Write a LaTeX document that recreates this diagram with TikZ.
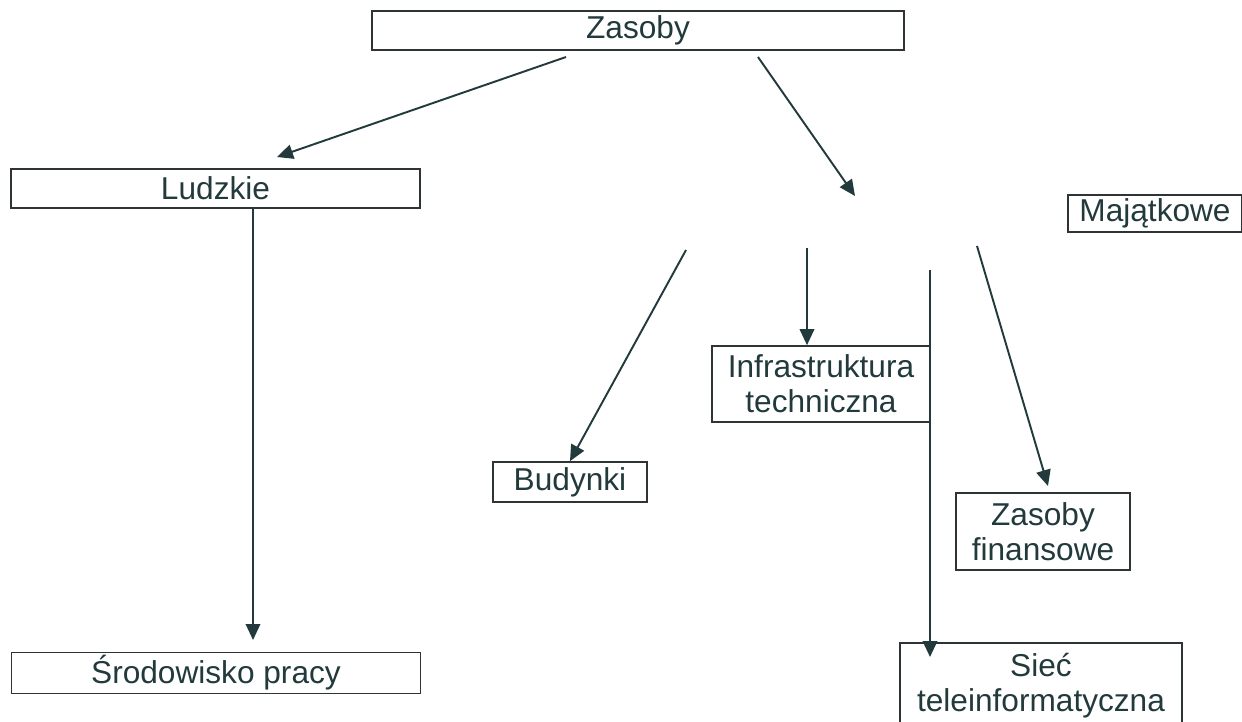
\documentclass[tikz,border=0pt]{standalone}
\usepackage{fontspec}
\setmainfont{Liberation Sans}
\usetikzlibrary{arrows.meta}
\definecolor{ink}{HTML}{223A3C}
\definecolor{frame}{HTML}{2E3436}

\begin{document}
\begin{tikzpicture}[x=0.02cm, y=-0.02cm,
    box/.style={draw=frame, line width=0.95pt, inner sep=0pt, align=center,
        text=ink, font=\fontsize{18}{20}\selectfont},
    link/.style={draw=ink, line width=1.1pt,
        -{Triangle[length=0.32cm,width=0.29cm]}}
]
	\useasboundingbox (0,0) rectangle (1242,721);
	\clip (0,0) rectangle (1242,721);

	% boxes
	\node[box, minimum width=10.64cm, minimum height=0.78cm] (zas) at (638,30.5) {Zasoby};
	\node[box, minimum width=8.18cm, minimum height=0.78cm] (ludz) at (215.5,188.5) {Ludzkie};
	\node[box, minimum width=3.48cm, minimum height=0.74cm] (maj) at (1155,213.5) {Majątkowe};
	\node[box, minimum width=4.36cm, minimum height=1.52cm] (infra) at (821,384) {Infrastruktura\\techniczna};
	\node[box, minimum width=3.08cm, minimum height=0.8cm] (bud) at (570,482) {Budynki};
	\node[box, minimum width=3.48cm, minimum height=1.54cm] (fin) at (1043,531.5) {Zasoby\\finansowe};
	\node[box, minimum width=8.18cm, minimum height=0.82cm] (sro) at (216,673) {Środowisko pracy};
	\node[box, minimum width=5.64cm, minimum height=1.72cm] (siec) at (1041,686) {Sieć\\teleinformatyczna};

	% free ends of the arrows
	\coordinate (zasL) at (566,57);
	\coordinate (ludzIn) at (277,157);
	\coordinate (zasR) at (758,57);
	\coordinate (majIn) at (855,196);
	\coordinate (sroIn) at (253,640);
	\coordinate (budOut) at (686,250);
	\coordinate (infraOut) at (807,248);
	\coordinate (siecOut) at (930,270);
	\coordinate (siecIn) at (930,657);
	\coordinate (finOut) at (977,246);
	\coordinate (finIn) at (1048,486);

	% arrows
	\draw[link] (zasL) -- (ludzIn);
	\draw[link] (zasR) -- (majIn);
	\draw[link] (ludz.south -| sroIn) -- (sroIn);
	\draw[link] (budOut) -- (bud.north);
	\draw[link] (infraOut) -- (infra.north -| infraOut);
	\draw[link] (siecOut) -- (siecIn);
	\draw[link] (finOut) -- (finIn);
\end{tikzpicture}
\end{document}
